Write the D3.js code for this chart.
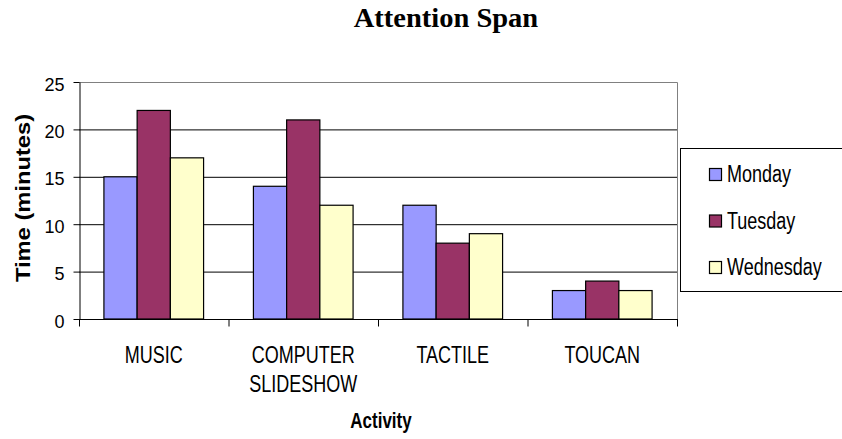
<!DOCTYPE html>
<html>
<head>
<meta charset="utf-8">
<script src="https://cdn.jsdelivr.net/npm/d3@7"></script>
<style>
  body { margin: 0; background: #fff; }
  svg { font-family: "Liberation Sans", Arial, sans-serif; }
</style>
</head>
<body>
<svg id="chart" width="842" height="439"></svg>
<script>
// ----------

const CATEGORIES = [["MUSIC"], ["COMPUTER", "SLIDESHOW"], ["TACTILE"], ["TOUCAN"]];
const SERIES = ["Monday", "Tuesday", "Wednesday"];
const MONDAY = [15, 14, 12, 3];
const TUESDAY = [22, 21, 8, 4];
const WEDNESDAY = [17, 12, 9, 3];
const Y_TICKS = [0, 5, 10, 15, 20, 25];

const COLORS = ["#9999ff", "#993366", "#ffffcc"];

// the original picture is stretched a bit vertically, so is its text
const TEXT_STRETCH = 1.3;

// ----------

const svg = d3.select("#chart");
const plot = { left: 79, right: 677, top: 82, bottom: 319 };

const values = [MONDAY, TUESDAY, WEDNESDAY];
const keys = CATEGORIES.map((c) => c.join(" "));

const x = d3.scaleBand().domain(keys).range([plot.left, plot.right]);
const y = d3.scaleLinear().domain([0, 25]).range([plot.bottom, plot.top]);

// excel style gap width 150%
const barW = x.bandwidth() / (SERIES.length + 1.5);
const xs = d3.scaleBand().domain(SERIES).range([0, barW * SERIES.length]);
const offset = (x.bandwidth() - barW * SERIES.length) / 2;

function stretchedText(parent, tx, ty, str, size, sy) {
  return parent.append("text")
    .attr("transform", `translate(${tx},${ty}) scale(1,${sy})`)
    .style("font-size", size + "px")
    .text(str);
}

// title
stretchedText(svg, 446, 27, "Attention Span", 28.5, 0.95)
  .attr("text-anchor", "middle")
  .style("font-family", "'Liberation Serif', 'Times New Roman', serif")
  .style("font-weight", "bold");

// gridlines
svg.append("g").selectAll("line")
  .data(Y_TICKS.filter((t) => t > 0 && t < 25))
  .enter().append("line")
  .attr("x1", plot.left).attr("x2", plot.right)
  .attr("y1", (d) => y(d) + 0.5).attr("y2", (d) => y(d) + 0.5)
  .attr("stroke", "#000");

// plot border top and right (grey)
svg.append("path")
  .attr("d", `M${plot.left},${plot.top + 0.5}H${plot.right + 0.5}V${plot.bottom}`)
  .attr("fill", "none").attr("stroke", "#808080");

// bars
const groups = svg.append("g").selectAll("g")
  .data(keys)
  .enter().append("g")
  .attr("transform", (d) => `translate(${x(d) + offset},0)`);

groups.selectAll("rect")
  .data((d, i) => SERIES.map((s, j) => ({ s: s, v: values[j][i], c: COLORS[j] })))
  .enter().append("rect")
  .attr("x", (d) => xs(d.s))
  .attr("width", barW)
  .attr("y", (d) => y(d.v))
  .attr("height", (d) => y(0) - y(d.v))
  .attr("fill", (d) => d.c)
  .attr("stroke", "#000").attr("stroke-width", 1.2);

// y axis
const yAxis = svg.append("g")
  .attr("transform", `translate(${plot.left + 0.5},0)`)
  .call(d3.axisLeft(y).tickValues(Y_TICKS).tickSize(6).tickSizeOuter(0).tickPadding(9));
yAxis.selectAll("text")
  .style("font-size", "18px").attr("fill", "#000").attr("font-family", null)
  .attr("dy", "0.45em");
yAxis.selectAll("line,path").attr("stroke", "#000");

// x axis with ticks between categories
const xAxis = svg.append("g").attr("transform", `translate(0,${plot.bottom + 0.5})`);
xAxis.append("line")
  .attr("x1", plot.left - 2).attr("x2", plot.right + 1)
  .attr("stroke", "#000");
xAxis.selectAll(".tick")
  .data(keys.map((k) => x(k)).concat([plot.right]))
  .enter().append("line")
  .attr("x1", (d) => d + 0.5).attr("x2", (d) => d + 0.5)
  .attr("y1", 0).attr("y2", 7)
  .attr("stroke", "#000");

CATEGORIES.forEach((lines, i) => {
  lines.forEach((line, j) => {
    stretchedText(xAxis, x(keys[i]) + x.bandwidth() / 2, 43 + j * 29, line, 18, TEXT_STRETCH)
      .attr("text-anchor", "middle");
  });
});

// axis titles
stretchedText(svg, 381, 428, "Activity", 17, TEXT_STRETCH)
  .attr("text-anchor", "middle")
  .style("font-weight", "bold");

svg.append("text")
  .attr("transform", "translate(30,198) rotate(-90) scale(1.13,1)")
  .attr("text-anchor", "middle")
  .style("font-weight", "bold").style("font-size", "21px")
  .text("Time (minutes)");

// legend
const legend = svg.append("g");
legend.append("rect")
  .attr("x", 680.5).attr("y", 148.5)
  .attr("width", 170).attr("height", 143)
  .attr("fill", "#fff").attr("stroke", "#000");

const item = legend.selectAll(".item")
  .data(SERIES)
  .enter().append("g")
  .attr("transform", (d, i) => `translate(709,${182 + i * 46.5})`);
item.append("rect")
  .attr("x", 0.5).attr("y", -13.5)
  .attr("width", 12).attr("height", 12)
  .attr("fill", (d, i) => COLORS[i])
  .attr("stroke", "#000").attr("stroke-width", 1.2);
item.each(function (d) {
  stretchedText(d3.select(this), 18, 0, d, 18, 1.28);
});
</script>
</body>
</html>
